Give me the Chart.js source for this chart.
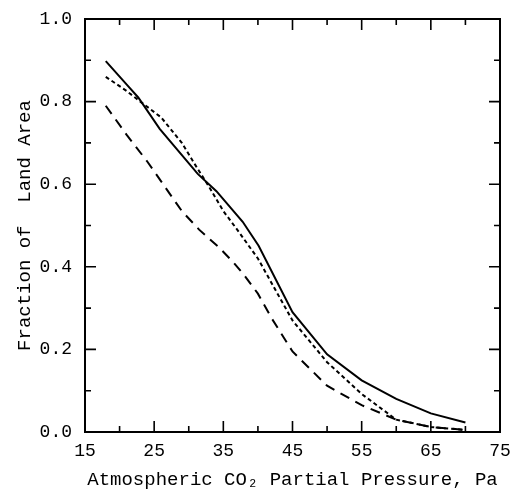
<!DOCTYPE html>
<html>
<head>
<meta charset="utf-8">
<script src="https://cdn.jsdelivr.net/npm/chart.js@4/dist/chart.umd.min.js"></script>
<style>
  body { margin: 0; background: #fff; }
  #wrap { width: 510px; height: 491px; }
</style>
</head>
<body>
<div id="wrap"><canvas id="co2-chart" width="510" height="491"></canvas></div>
<script>
// solid curve
const solidX = [18, 21.2, 22.7, 25.8, 31.3, 34, 37.8, 40.1, 45, 50, 55, 60, 65, 70];
const solidY = [0.898, 0.838, 0.81, 0.734, 0.625, 0.583, 0.509, 0.451, 0.29, 0.188, 0.125, 0.08, 0.045, 0.023];
// short-dash (dotted) curve
const dottedX = [18, 21, 23, 26, 29, 31, 33, 35, 37, 40, 45, 50, 55, 60, 65, 70];
const dottedY = [0.86, 0.826, 0.80, 0.762, 0.70, 0.645, 0.592, 0.535, 0.49, 0.42, 0.27, 0.169, 0.092, 0.03, 0.012, 0.005];
// long-dash curve
const dashedX = [18, 21, 24, 26.5, 29, 31.5, 34.5, 36.5, 38, 40, 42, 45, 50, 55, 60, 65, 70];
const dashedY = [0.79, 0.72, 0.655, 0.595, 0.535, 0.49, 0.445, 0.41, 0.38, 0.335, 0.275, 0.195, 0.112, 0.065, 0.03, 0.012, 0.005];

const xTicks = [15, 25, 35, 45, 55, 65, 75];
const xMinorTicks = [20, 30, 40, 50, 60, 70];
const yTicks = [0, 0.2, 0.4, 0.6, 0.8, 1.0];
const yMinorTicks = [0.1, 0.3, 0.5, 0.7, 0.9];

const fontFamily = "'Liberation Mono', 'Courier New', monospace";

function pts(xs, ys) {
    return xs.map((x, i) => ({ x: x, y: ys[i] }));
}

// frame + inward ticks on all four sides
const framePlugin = {
    id: 'frame',
    afterDraw(chart) {
        const ctx = chart.ctx;
        const a = chart.chartArea;
        const xs = chart.scales.x, ys = chart.scales.y;
        ctx.save();
        ctx.strokeStyle = '#000';
        ctx.lineWidth = 2;
        ctx.strokeRect(a.left, a.top, a.right - a.left, a.bottom - a.top);
        ctx.lineWidth = 1.6;
        ctx.beginPath();
        const tickX = (vals, len) => vals.forEach(v => {
            const p = xs.getPixelForValue(v);
            ctx.moveTo(p, a.bottom); ctx.lineTo(p, a.bottom - len);
            ctx.moveTo(p, a.top); ctx.lineTo(p, a.top + len);
        });
        const tickY = (vals, len) => vals.forEach(v => {
            const p = ys.getPixelForValue(v);
            ctx.moveTo(a.left, p); ctx.lineTo(a.left + len, p);
            ctx.moveTo(a.right, p); ctx.lineTo(a.right - len, p);
        });
        tickX(xTicks, 11);
        tickX(xMinorTicks, 6);
        tickY(yTicks, 11);
        tickY(yMinorTicks, 6);
        ctx.stroke();
        ctx.restore();
    }
};

const ctx = document.getElementById('co2-chart').getContext('2d');
const chart = new Chart(ctx, {
    type: 'line',
    data: {
        datasets: [{
            data: pts(solidX, solidY),
            borderColor: '#000',
            borderWidth: 2
        }, {
            data: pts(dottedX, dottedY),
            borderColor: '#000',
            borderWidth: 2,
            borderDash: [4, 3]
        }, {
            data: pts(dashedX, dashedY),
            borderColor: '#000',
            borderWidth: 2,
            borderDash: [10, 7]
        }]
    },
    options: {
        responsive: false,
        animation: false,
        events: [],
        layout: { padding: { top: 19, right: 10, left: 0, bottom: 0 } },
        elements: { point: { radius: 0 }, line: { tension: 0 } },
        plugins: { legend: { display: false }, tooltip: { enabled: false } },
        scales: {
            x: {
                type: 'linear',
                min: 15,
                max: 75,
                afterBuildTicks: s => { s.ticks = xTicks.map(v => ({ value: v })); },
                afterFit: s => { s.height = 59; s.paddingLeft = 0; s.paddingRight = 0; },
                grid: { display: false, drawTicks: false },
                border: { display: false },
                ticks: {
                    color: '#000',
                    padding: 8,
                    maxRotation: 0,
                    font: { family: fontFamily, size: 18 }
                },
                title: {
                    display: true,
                    text: 'Atmospheric CO\u2082 Partial Pressure, Pa',
                    color: '#000',
                    padding: { top: 3, bottom: 0 },
                    font: { family: fontFamily, size: 19 }
                }
            },
            y: {
                type: 'linear',
                min: 0,
                max: 1,
                afterBuildTicks: s => { s.ticks = yTicks.map(v => ({ value: v })); },
                afterFit: s => { s.width = 85; s.paddingTop = 0; s.paddingBottom = 0; },
                grid: { display: false, drawTicks: false },
                border: { display: false },
                ticks: {
                    color: '#000',
                    padding: 13,
                    font: { family: fontFamily, size: 18 },
                    callback: v => v.toFixed(1)
                },
                title: {
                    display: true,
                    text: 'Fraction of  Land Area',
                    color: '#000',
                    padding: { top: 14, bottom: 0 },
                    font: { family: fontFamily, size: 19 }
                }
            }
        }
    },
    plugins: [framePlugin]
});
</script>
</body>
</html>
